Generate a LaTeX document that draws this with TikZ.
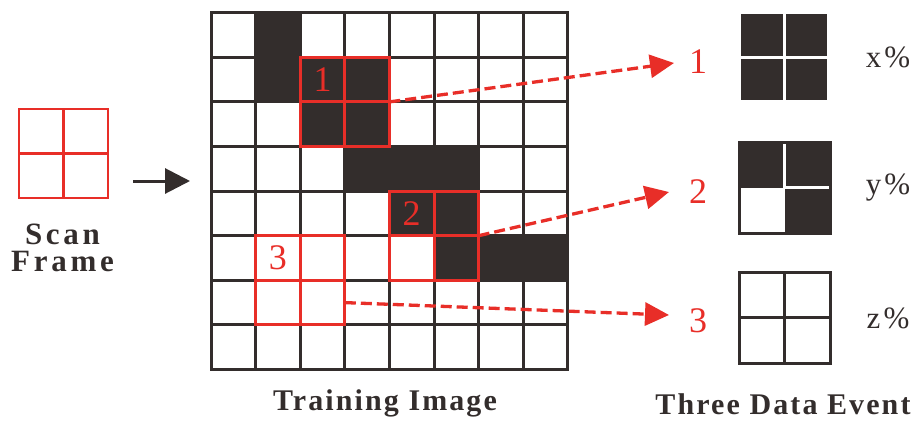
\documentclass[tikz,border=0pt]{standalone}
\usepackage{fontspec}
\setmainfont{Liberation Serif}
\usetikzlibrary{arrows.meta,calc}
\definecolor{ink}{RGB}{51,45,44}
\definecolor{scanred}{RGB}{232,46,40}

\begin{document}
\begin{tikzpicture}[x=1pt,y=-1pt,
  gridline/.style={ink, line width=3pt, line cap=rect},
  redbox/.style={draw=scanred, line width=3pt, minimum size=89.2pt, inner sep=0pt, outer sep=0pt},
  redcross/.style={scanred, line width=3pt},
  digit/.style={text=scanred, font=\fontsize{36}{36}\selectfont, inner sep=0pt},
  title/.style={text=ink, font=\fontsize{30}{30}\selectfont\bfseries\addfontfeature{LetterSpace=7}, inner sep=0pt},
  pct/.style={text=ink, font=\fontsize{31}{31}\selectfont\addfontfeature{LetterSpace=10}, inner sep=0pt},
  dasharrow/.style={scanred, line width=3.3pt, dash pattern=on 11pt off 5pt,
    -{Triangle[length=24pt,width=23pt]}},
  evbox/.style={minimum size=#1, inner sep=0pt, outer sep=0pt},
]
\useasboundingbox (0,0) rectangle (918,421);

% ---- scan frame ----
\node[redbox, line width=2.6pt] (scan) at (63.5,153.5) {};
\draw[redcross, line width=2.6pt] (scan.north) -- (scan.south) (scan.west) -- (scan.east);
\node[title, align=center, font=\fontsize{31}{27}\selectfont\bfseries\addfontfeature{LetterSpace=12}] (scanlabel) at (62.5,248) {Scan\\Frame};

% ---- arrow into the training image ----
\coordinate (in0) at (133,181);
\coordinate (in1) at (190,181);
\draw[ink, line width=3pt, -{Triangle[length=25pt,width=25pt]}] (in0) -- (in1);

% ---- training image: 8x8 grid ----
\begin{scope}[shift={(211,12.7)}, x=44.6pt, y=-44.6pt]
  \foreach \c/\r in {1/0,1/1,2/1,3/1,2/2,3/2,3/3,4/3,5/3,4/4,5/4,5/5,6/5,7/5}
    \fill[ink] (\c,\r) rectangle ++(1,1);
  \foreach \i in {0,...,8} {
    \draw[gridline] (\i,0) -- (\i,8);
    \draw[gridline] (0,\i) -- (8,\i);
  }
  % scan positions
  \node[redbox] (f1) at (3,2) {};
  \node[redbox] (f2) at (5,5) {};
  \node[redbox] (f3) at (2,6) {};
  \foreach \f in {f1,f2,f3}
    \draw[redcross] (\f.north) -- (\f.south) (\f.west) -- (\f.east);
  \node[digit] (n1) at (2.5,1.5) {1};
  \node[digit] (n2) at (4.5,4.5) {2};
  \node[digit] (n3) at (1.5,5.5) {3};
\end{scope}
\node[title, anchor=base] (ti) at (385,410) {Training Image};

% ---- dashed links to the data events ----
\coordinate (t1) at (674,63);
\coordinate (t2) at (669,192);
\coordinate (t3) at (669,315);
\coordinate (s3) at ($(f3.east)!0.5!(f3.south east)$);
\draw[dasharrow] (f1.east) -- (t1);
\draw[dasharrow] (f2.east) -- (t2);
\draw[dasharrow] (s3) -- (t3);
\node[digit, anchor=base] (l1) at (698,73) {1};
\node[digit, anchor=base] (l2) at (698,203) {2};
\node[digit, anchor=base] (l3) at (698,332) {3};

% ---- data event 1: all four cells black ----
\node[evbox=86pt, fill=ink] (e1) at (784,57) {};
\draw[white, line width=3pt] (e1.north) -- (e1.south) (e1.west) -- (e1.east);

% ---- data event 2: three black cells, lower left white ----
\node[evbox=91pt, fill=ink] (e2) at (784.5,187.5) {};
\fill[white] (e2.center) rectangle (e2.south west);
\draw[white, line width=2.5pt] (e2.north) -- (e2.center) -- (e2.east);
\draw[ink, line width=3pt] (e2.north west) rectangle (e2.south east);

% ---- data event 3: all four cells white ----
\node[evbox=91pt, draw=ink, line width=3pt, fill=white] (e3) at (784.5,317.5) {};
\draw[ink, line width=3pt] (e3.north) -- (e3.south) (e3.west) -- (e3.east);

% ---- probabilities ----
\node[pct, anchor=base] (p1) at (888,67) {x\%};
\node[pct, anchor=base] (p2) at (888,194) {y\%};
\node[pct, anchor=base] (p3) at (888,328) {z\%};

\node[title, anchor=base] (te) at (783,414) {Three Data Event};
\end{tikzpicture}
\end{document}
